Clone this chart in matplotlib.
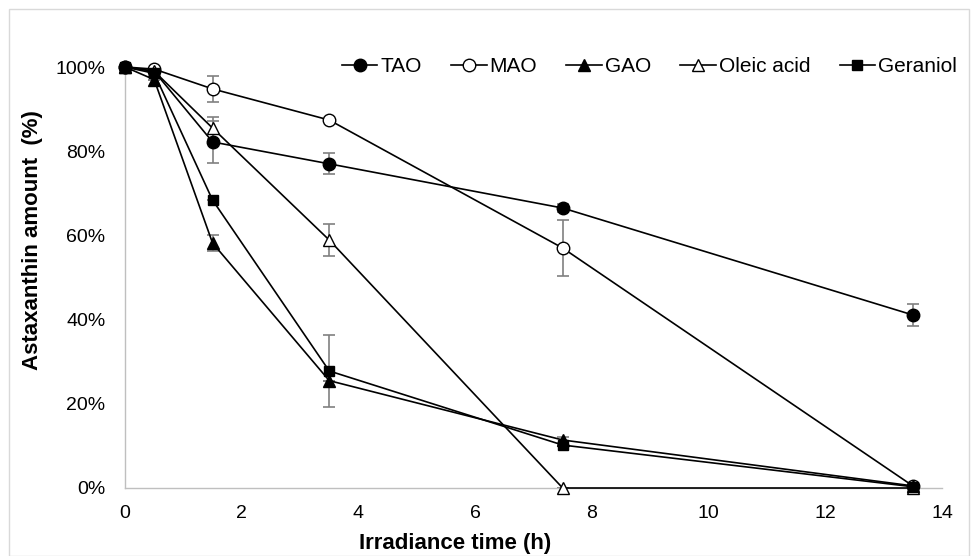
import matplotlib
matplotlib.use("Agg")
import matplotlib.pyplot as plt
from matplotlib.ticker import FuncFormatter
from matplotlib.patches import Rectangle

plt.rcParams['font.family'] = ['Liberation Sans', 'DejaVu Sans']

time_h = [0, 0.5, 1.5, 3.5, 7.5, 13.5]
series_names = ["TAO", "MAO", "GAO", "Oleic acid", "Geraniol"]
tao = [100, 99, 82.2, 77.0, 66.5, 41.1]
tao_err = [0, 0, 5.0, 2.5, 1.0, 2.6]
mao = [100, 99.5, 94.8, 87.4, 57.0, 0.5]
mao_err = [0, 0, 3.1, 0, 6.6, 0]
gao = [100, 97.0, 58.2, 25.5, 11.4, 0.5]
gao_err = [0, 0, 2.0, 0, 0.8, 0]
oleic = [100, 99, 85.5, 58.9, 0, 0]
oleic_err = [0, 0, 2.6, 3.7, 0, 0]
geraniol = [100, 98.5, 68.4, 27.8, 10.2, 0.3]
geraniol_err = [0, 0, 0, 8.5, 0, 0]
y_ticks = [0, 20, 40, 60, 80, 100]
x_ticks = [0, 2, 4, 6, 8, 10, 12, 14]

values = [tao, mao, gao, oleic, geraniol]
errors = [tao_err, mao_err, gao_err, oleic_err, geraniol_err]
markers = ['o', 'o', '^', '^', 's']
faces = ['black', 'white', 'black', 'white', 'black']
sizes = [9, 9, 9, 9, 7.5]

fig = plt.figure(figsize=(9.78, 5.56), dpi=100)
ax = fig.add_axes([125/978, 68/556, (942-125)/978, (488-67)/556])

for v, e in zip(values, errors):
    ax.errorbar(time_h, v, yerr=e, fmt='none', ecolor='#808080', elinewidth=1.2,
                capsize=4, capthick=1.2, zorder=2, clip_on=False)
for name, v, m, fc, ms in zip(series_names, values, markers, faces, sizes):
    ax.plot(time_h, v, color='black', lw=1.2, marker=m, markersize=ms,
            markerfacecolor=fc, markeredgecolor='black', markeredgewidth=1.0,
            label=name, zorder=3, clip_on=False)

ax.set_xlim(0, 14)
ax.set_ylim(0, 100)
ax.set_xticks(x_ticks)
ax.set_yticks(y_ticks)
ax.yaxis.set_major_formatter(FuncFormatter(lambda v, p: f"{int(v)}%"))
ax.tick_params(length=0, labelsize=14)
ax.tick_params(axis='y', pad=14)
ax.tick_params(axis='x', pad=12)
for s in ['top', 'right']:
    ax.spines[s].set_visible(False)
for s in ['left', 'bottom']:
    ax.spines[s].set_color('#bfbfbf')
    ax.spines[s].set_linewidth(1.0)

ax.set_xlabel("Irradiance time (h)", fontsize=16, fontweight='bold')
ax.set_ylabel("Astaxanthin amount  (%)", fontsize=16, fontweight='bold')
ax.xaxis.set_label_coords((455-125)/817, (488-533)/421)
ax.yaxis.set_label_coords((43-125)/817, (488-240)/421)

leg = ax.legend(loc='center right', bbox_to_anchor=((957-125)/817, 1.0), ncol=5,
                frameon=False, fontsize=15, handlelength=1.7, handletextpad=0.15,
                columnspacing=1.4, borderaxespad=0, borderpad=0)

fig.patches.append(Rectangle((9/978, 0), 1 - 18/978, 1 - 9/556, transform=fig.transFigure,
                             fill=False, edgecolor='#d9d9d9', lw=1.0))

fig.savefig("out.png", dpi=100)
